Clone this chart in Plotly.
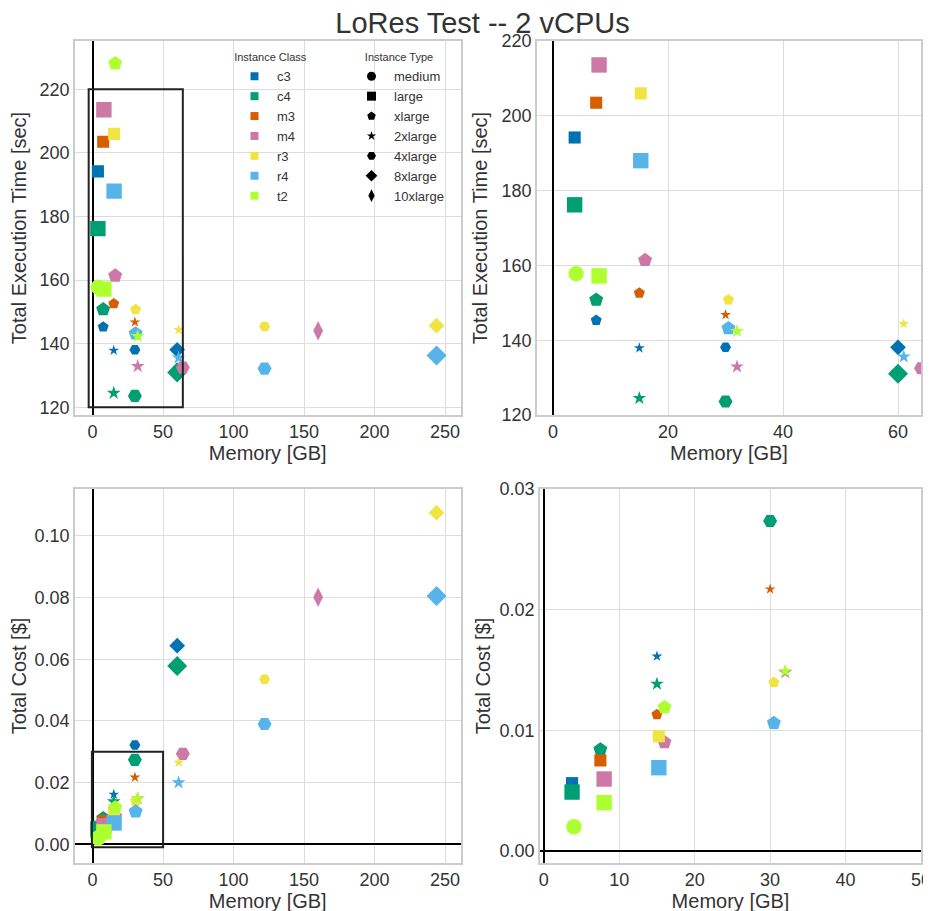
import plotly.graph_objects as go

# ---------------- data ----------------
instance_class = ["c3", "c3", "c3", "c3", "c3",
                  "c4", "c4", "c4", "c4", "c4",
                  "m3", "m3", "m3",
                  "m4", "m4", "m4", "m4", "m4",
                  "r3", "r3", "r3", "r3", "r3",
                  "r4", "r4", "r4", "r4", "r4",
                  "t2", "t2", "t2", "t2"]
instance_type = ["large", "xlarge", "2xlarge", "4xlarge", "8xlarge",
                 "large", "xlarge", "2xlarge", "4xlarge", "8xlarge",
                 "large", "xlarge", "2xlarge",
                 "large", "xlarge", "2xlarge", "4xlarge", "10xlarge",
                 "large", "xlarge", "2xlarge", "4xlarge", "8xlarge",
                 "large", "xlarge", "2xlarge", "4xlarge", "8xlarge",
                 "medium", "large", "xlarge", "2xlarge"]
memory_gb = [3.75, 7.5, 15, 30, 60,
             3.75, 7.5, 15, 30, 60,
             7.5, 15, 30,
             8, 16, 32, 64, 160,
             15.25, 30.5, 61, 122, 244,
             15.25, 30.5, 61, 122, 244,
             4, 8, 16, 32]
exec_time_sec = [194.2, 145.3, 137.9, 138.1, 138.1,
                 176.2, 150.8, 124.5, 123.6, 131.0,
                 203.5, 152.6, 146.8,
                 213.6, 161.4, 132.9, 132.5, 144.1,
                 206.0, 150.8, 144.4, 145.4, 145.7,
                 188.0, 143.2, 135.6, 132.2, 136.3,
                 157.8, 157.2, 228.2, 142.4]
total_cost = [0.00562, 0.00848, 0.01614, 0.0322, 0.0644,
              0.00488, 0.0084, 0.01384, 0.02735, 0.0578,
              0.0075, 0.0113, 0.0217,
              0.00596, 0.0090, 0.0148, 0.0293, 0.0801,
              0.0095, 0.01398, 0.0265, 0.0535, 0.1075,
              0.0069, 0.0106, 0.0200, 0.0390, 0.0805,
              0.0020, 0.0040, 0.0119, 0.0149]

class_order = ["c3", "c4", "m3", "m4", "r3", "r4", "t2"]
type_order = ["medium", "large", "xlarge", "2xlarge", "4xlarge", "8xlarge", "10xlarge"]

# zoom windows shown in the right-hand panels
time_zoom_x = [-2.8, 64]
time_zoom_y = [120, 220]
cost_zoom_x = [-0.5, 50]
cost_zoom_y = [-0.001, 0.03]

# ---------------- styles ----------------
class_color = {"c3": "#0072B2", "c4": "#009E73", "m3": "#D55E00", "m4": "#CC79A7",
               "r3": "#F0E442", "r4": "#56B4E9", "t2": "#ADFF2F"}
class_size = {"c3": 11, "c4": 14, "m3": 11, "m4": 14, "r3": 11, "r4": 14, "t2": 14}
type_symbol = {"medium": "circle", "large": "square", "xlarge": "pentagon",
               "2xlarge": "star", "4xlarge": "hexagon2", "8xlarge": "diamond",
               "10xlarge": "diamond-tall"}
type_factor = {"medium": 1.1, "large": 1.1, "xlarge": 1.05, "2xlarge": 0.74,
               "4xlarge": 1.0, "8xlarge": 1.1, "10xlarge": 1.0}

FONT = "Liberation Sans, Arial, sans-serif"
TXT = "#333333"

W, H = 931, 911
OFF = 8  # the page body adds an 8 px margin around the plot div


def px(x):
    return (x - OFF) / W


def py(y):
    return 1 - (y - OFF) / H


fig = go.Figure()

panels = [("x", "y", exec_time_sec), ("x2", "y2", exec_time_sec),
          ("x3", "y3", total_cost), ("x4", "y4", total_cost)]

for xa, ya, yvals in panels:
    for cls in class_order:
        idx = [i for i, c in enumerate(instance_class) if c == cls]
        fig.add_trace(go.Scatter(
            x=[memory_gb[i] for i in idx],
            y=[yvals[i] for i in idx],
            xaxis=xa, yaxis=ya, mode="markers", showlegend=False,
            marker=dict(color=class_color[cls], opacity=1,
                        symbol=[type_symbol[instance_type[i]] for i in idx],
                        size=[class_size[cls] * type_factor[instance_type[i]] for i in idx],
                        line=dict(width=0)),
            hovertext=[f"{cls}.{instance_type[i]}" for i in idx],
        ))

# legend entries
for cls in class_order:
    fig.add_trace(go.Scatter(x=[None], y=[None], mode="markers", name=cls,
                             marker=dict(symbol="square", color=class_color[cls], size=8),
                             legend="legend"))
for t in type_order:
    fig.add_trace(go.Scatter(x=[None], y=[None], mode="markers", name=t,
                             marker=dict(symbol=type_symbol[t], color="black",
                                         size=9 if t != "2xlarge" else 7),
                             legend="legend2"))

axis_common = dict(showgrid=True, gridcolor="#dddddd", gridwidth=1, automargin=False,
                   showline=True, linecolor="#cccccc", linewidth=1.5, mirror=True,
                   ticks="", zeroline=True, zerolinecolor="black", zerolinewidth=1.5,
                   tickfont=dict(size=18, color=TXT, family=FONT),
                   title_font=dict(size=20, color=TXT, family=FONT))
xtitle = dict(text="Memory [GB]", standoff=0)

xL = [px(75), px(460.5)]
xR_top = [px(537), px(921)]
xR_bot = [px(540), px(921)]
yT = [py(415), py(41)]
yB = [py(863), py(489)]

legend_common = dict(xanchor="left", yanchor="top", bgcolor="rgba(0,0,0,0)",
                     itemwidth=35,
                     font=dict(size=13, color=TXT, family=FONT), itemclick=False)

fig.update_layout(
    template="none",
    width=W, height=H,
    margin=dict(l=0, r=0, t=0, b=0, autoexpand=False),
    paper_bgcolor="white", plot_bgcolor="white",
    font=dict(family=FONT, color=TXT),
    title=dict(text="LoRes Test -- 2 vCPUs", x=px(482.5), xanchor="center",
               y=py(22.5), yanchor="middle",
               font=dict(size=29, color=TXT, family=FONT)),
    xaxis=dict(domain=xL, anchor="y", range=[-12.5, 261], dtick=50,
               title=xtitle, **axis_common),
    yaxis=dict(domain=yT, anchor="x", range=[117.6, 235.2], dtick=20,
               title_text="Total Execution Time [sec]", **axis_common),
    xaxis2=dict(domain=xR_top, anchor="y2", range=time_zoom_x, dtick=20,
                title=xtitle, **axis_common),
    yaxis2=dict(domain=yT, anchor="x2", range=time_zoom_y, dtick=20,
                title_text="Total Execution Time [sec]", **axis_common),
    xaxis3=dict(domain=xL, anchor="y3", range=[-12.5, 261], dtick=50,
                title=xtitle, **axis_common),
    yaxis3=dict(domain=yB, anchor="x3", range=[-0.0061, 0.1152], dtick=0.02,
                tickformat=".2f", title_text="Total Cost [$]", **axis_common),
    xaxis4=dict(domain=xR_bot, anchor="y4", range=cost_zoom_x, dtick=10,
                title=xtitle, **axis_common),
    yaxis4=dict(domain=yB, anchor="x4", range=cost_zoom_y, dtick=0.01,
                tickformat=".2f", title_text="Total Cost [$]", **axis_common),
    legend=dict(x=px(232), y=py(47),
                title=dict(text="Instance Class", side="top center",
                           font=dict(size=11, color=TXT, family=FONT)),
                **legend_common),
    legend2=dict(x=px(349), y=py(47),
                 title=dict(text="Instance Type", side="top center",
                            font=dict(size=11, color=TXT, family=FONT)),
                 **legend_common),
    shapes=[
        dict(type="rect", xref="x", yref="y",
             x0=time_zoom_x[0], x1=time_zoom_x[1], y0=time_zoom_y[0], y1=time_zoom_y[1],
             line=dict(color="#222222", width=2)),
        dict(type="rect", xref="x3", yref="y3",
             x0=cost_zoom_x[0], x1=cost_zoom_x[1], y0=cost_zoom_y[0], y1=cost_zoom_y[1],
             line=dict(color="#222222", width=2)),
    ],
)

fig.write_html("out.html")
